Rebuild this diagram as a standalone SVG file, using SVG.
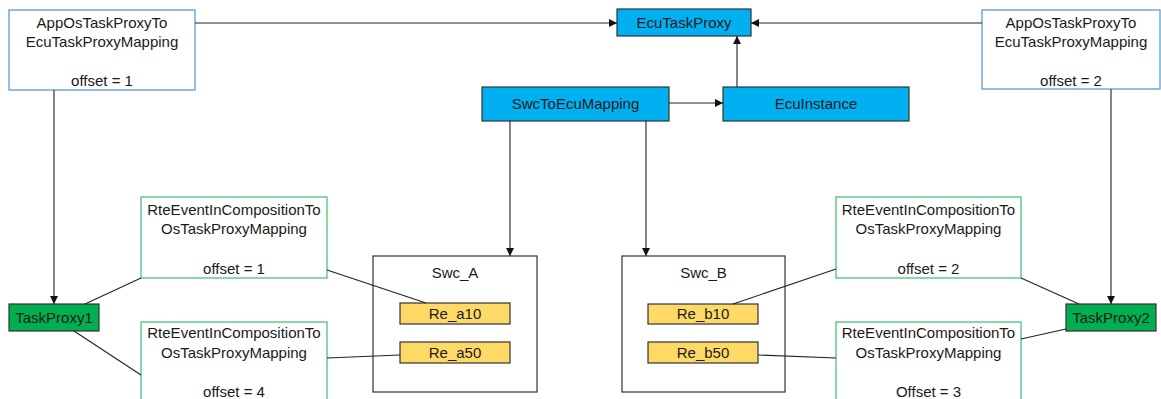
<svg xmlns="http://www.w3.org/2000/svg" width="1161" height="399" viewBox="0 0 1161 399">
<style>
text{font-family:"Liberation Sans",Arial,sans-serif;font-size:15px;fill:#1a1a1a;text-anchor:middle}
.map{fill:#fff;stroke:#5B9BD5;stroke-width:1.3}
.rte{fill:#fff;stroke:#4CC27A;stroke-width:1.3}
.blue{fill:#00B0F0;stroke:#333;stroke-width:1.2}
.green{fill:#00B050;stroke:#333;stroke-width:1.2}
.yel{fill:#FFD966;stroke:#333;stroke-width:1.2}
.swc{fill:#fff;stroke:#333;stroke-width:1.2}
.c{fill:none;stroke:#222;stroke-width:1.1}
.a{marker-end:url(#ah)}
</style>
<defs>
<marker id="ah" viewBox="0 0 10 10" refX="10" refY="5" markerWidth="8" markerHeight="8" markerUnits="userSpaceOnUse" orient="auto">
<path d="M0,0 L10,5 L0,10 z" fill="#111"/>
</marker>
</defs>
<rect width="1161" height="399" fill="#fff"/>
<g id="mapLeft">
<rect class="map" x="9" y="10" width="186" height="80"/>
<text x="102" y="28">AppOsTaskProxyTo</text>
<text x="102" y="47">EcuTaskProxyMapping</text>
<text x="102" y="86">offset = 1</text>
</g>
<g id="mapRight">
<rect class="map" x="982" y="10" width="178" height="79"/>
<text x="1071" y="28">AppOsTaskProxyTo</text>
<text x="1071" y="47">EcuTaskProxyMapping</text>
<text x="1071" y="86">offset = 2</text>
</g>
<g id="ecuTaskProxy">
<rect class="blue" x="617" y="9" width="134" height="27"/>
<text x="684" y="28">EcuTaskProxy</text>
</g>
<g id="swcToEcuMapping">
<rect class="blue" x="482" y="87" width="187" height="34"/>
<text x="575.5" y="109">SwcToEcuMapping</text>
</g>
<g id="ecuInstance">
<rect class="blue" x="723" y="87" width="186" height="34"/>
<text x="816" y="109">EcuInstance</text>
</g>
<g id="taskProxy1">
<rect class="green" x="9" y="304" width="90" height="27"/>
<text x="54" y="323">TaskProxy1</text>
</g>
<g id="taskProxy2">
<rect class="green" x="1066" y="304" width="90" height="27"/>
<text x="1111" y="323">TaskProxy2</text>
</g>
<g id="rte1">
<rect class="rte" x="141" y="197" width="186" height="81"/>
<text x="234" y="215">RteEventInCompositionTo</text>
<text x="234" y="234">OsTaskProxyMapping</text>
<text x="234" y="274">offset = 1</text>
</g>
<g id="rte4">
<rect class="rte" x="141" y="322" width="186" height="90"/>
<text x="234" y="338">RteEventInCompositionTo</text>
<text x="234" y="358">OsTaskProxyMapping</text>
<text x="234" y="397">offset = 4</text>
</g>
<g id="rte2">
<rect class="rte" x="836" y="197" width="185" height="81"/>
<text x="928.5" y="215">RteEventInCompositionTo</text>
<text x="928.5" y="234">OsTaskProxyMapping</text>
<text x="928.5" y="274">offset = 2</text>
</g>
<g id="rte3">
<rect class="rte" x="836" y="322" width="185" height="90"/>
<text x="928.5" y="338">RteEventInCompositionTo</text>
<text x="928.5" y="358">OsTaskProxyMapping</text>
<text x="928.5" y="397">Offset = 3</text>
</g>
<g id="swcA">
<rect class="swc" x="373" y="256" width="164" height="136"/>
<text x="455" y="278">Swc_A</text>
</g>
<g id="reA10">
<rect class="yel" x="400" y="303" width="110" height="21"/>
<text x="455" y="319">Re_a10</text>
</g>
<g id="reA50">
<rect class="yel" x="400" y="342" width="110" height="21"/>
<text x="455" y="358">Re_a50</text>
</g>
<g id="swcB">
<rect class="swc" x="622" y="256" width="163" height="136"/>
<text x="703.5" y="278">Swc_B</text>
</g>
<g id="reB10">
<rect class="yel" x="648" y="304" width="110" height="20"/>
<text x="703" y="319">Re_b10</text>
</g>
<g id="reB50">
<rect class="yel" x="648" y="342" width="110" height="21"/>
<text x="703" y="358">Re_b50</text>
</g>
<g id="connectors">
<line class="c a" x1="195" y1="23" x2="617" y2="23"/>
<line class="c a" x1="982" y1="23" x2="751" y2="23"/>
<line class="c a" x1="737" y1="87" x2="737" y2="36"/>
<line class="c a" x1="669" y1="103" x2="723" y2="103"/>
<line class="c a" x1="510" y1="121" x2="510" y2="256"/>
<line class="c a" x1="646" y1="121" x2="646" y2="256"/>
<line class="c a" x1="54" y1="90" x2="54" y2="304"/>
<line class="c a" x1="1111" y1="89" x2="1111" y2="304"/>
<line class="c" x1="85" y1="304" x2="141" y2="278"/>
<line class="c" x1="74" y1="331" x2="141" y2="375"/>
<line class="c" x1="327" y1="270" x2="426" y2="303"/>
<line class="c" x1="327" y1="358" x2="400" y2="355"/>
<line class="c" x1="836" y1="269" x2="733" y2="304"/>
<line class="c" x1="1021" y1="278" x2="1079" y2="304"/>
<line class="c" x1="1021" y1="339" x2="1066" y2="329"/>
<line class="c" x1="758" y1="355" x2="836" y2="358"/>
</g>
</svg>
